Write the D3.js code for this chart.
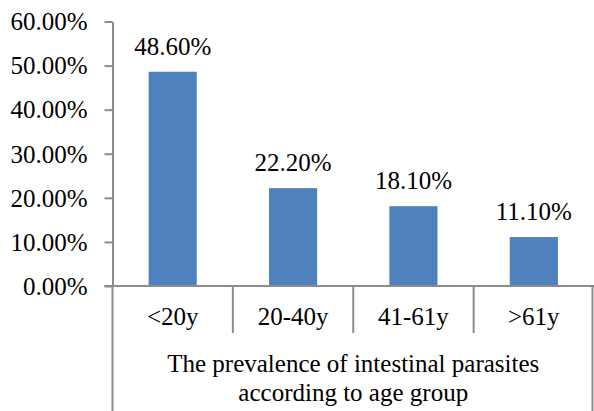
<!DOCTYPE html>
<html>
<head>
<meta charset="utf-8">
<script src="https://cdn.jsdelivr.net/npm/d3@7"></script>
<style>
  html, body { margin: 0; padding: 0; background: #fff; }
  svg { display: block; }
  text { font-family: "Liberation Serif", "Times New Roman", serif; fill: #000; }
</style>
</head>
<body>
<svg id="chart" width="594" height="411"></svg>
<script>
const categories = ["<20y", "20-40y", "41-61y", ">61y"];
const values = [48.6, 22.2, 18.1, 11.1];
const valueLabels = ["48.60%", "22.20%", "18.10%", "11.10%"];
const yTicks = [0, 10, 20, 30, 40, 50, 60];
const yTickLabels = ["0.00%", "10.00%", "20.00%", "30.00%", "40.00%", "50.00%", "60.00%"];
const groupTitle = ["The prevalence of intestinal parasites", "according to age group"];

(function () {
const svg = d3.select("#chart");
const W = 594, H = 411;
const plotLeft = 112.5, plotRight = 594, plotTop = 21.5, plotBottom = 286;
const axisColor = "#8c8c8c";
const fontSize = 25;

const x = d3.scaleBand().domain(categories).range([plotLeft, plotRight]).paddingInner(0).paddingOuter(0);
const y = d3.scaleLinear().domain([0, 60]).range([plotBottom, plotTop]);

// Bars
const barW = x.bandwidth() * 0.4;
svg.append("g").selectAll("rect").data(values).join("rect")
  .attr("x", (d, i) => x(categories[i]) + (x.bandwidth() - barW) / 2)
  .attr("y", d => y(d))
  .attr("width", barW)
  .attr("height", d => y(0) - y(d))
  .attr("fill", "#4F81BD");

// Value labels
svg.append("g").selectAll("text").data(values).join("text")
  .attr("x", (d, i) => x(categories[i]) + x.bandwidth() / 2)
  .attr("y", d => y(d) - 17)
  .attr("text-anchor", "middle")
  .attr("font-size", fontSize)
  .text((d, i) => valueLabels[i]);

// Y axis
const yAxis = d3.axisLeft(y).tickValues(yTicks).tickSize(8).tickSizeOuter(0)
  .tickFormat((d, i) => yTickLabels[i]);
const gy = svg.append("g").attr("transform", `translate(${plotLeft},0)`).call(yAxis);
gy.select(".domain").attr("stroke", axisColor).attr("stroke-width", 2);
gy.selectAll(".tick line").attr("stroke", axisColor).attr("stroke-width", 2);
gy.selectAll(".tick text")
  .attr("font-family", "Liberation Serif, Times New Roman, serif")
  .attr("font-size", fontSize)
  .attr("fill", "#000")
  .attr("x", -25)
  .attr("dy", "0.33em");

// X axis baseline (extends left for 0 tick)
svg.append("line")
  .attr("x1", plotLeft - 8).attr("x2", plotRight)
  .attr("y1", y(0)).attr("y2", y(0))
  .attr("stroke", axisColor).attr("stroke-width", 2);

// Category separators
const seps = categories.slice(1).map(c => x(c));
svg.append("g").selectAll("line").data(seps).join("line")
  .attr("x1", d => d).attr("x2", d => d)
  .attr("y1", y(0)).attr("y2", 333)
  .attr("stroke", axisColor).attr("stroke-width", 2);

// Outer group box lines
[plotLeft, plotRight - 1.5].forEach(xx => {
  svg.append("line")
    .attr("x1", xx).attr("x2", xx)
    .attr("y1", y(0)).attr("y2", H)
    .attr("stroke", axisColor).attr("stroke-width", 2);
});

// Category labels
svg.append("g").selectAll("text").data(categories).join("text")
  .attr("x", d => x(d) + x.bandwidth() / 2)
  .attr("y", 325)
  .attr("text-anchor", "middle")
  .attr("font-size", fontSize)
  .text(d => d);

// Group title
svg.append("g").selectAll("text").data(groupTitle).join("text")
  .attr("x", (plotLeft + plotRight) / 2)
  .attr("y", (d, i) => 372 + i * 29)
  .attr("text-anchor", "middle")
  .attr("font-size", fontSize)
  .text(d => d);
})();
</script>
</body>
</html>
